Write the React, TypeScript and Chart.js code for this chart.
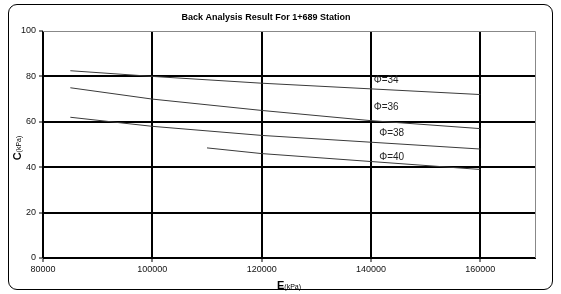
import React, { useEffect, useRef } from "react";
import { Chart, registerables } from "chart.js";

Chart.register(...registerables);

const titleText = "Back Analysis Result For 1+689 Station";
const eValues = [85000, 100000, 120000, 140000, 160000];
const eValues40 = [110000, 120000, 140000, 160000];
const phi34 = [82.5, 80, 77, 74.5, 72];
const phi36 = [75, 70, 65, 60.5, 57];
const phi38 = [62, 58, 54, 51, 48];
const phi40 = [48.5, 46, 42.5, 39];
const seriesNames = ["Φ=34", "Φ=36", "Φ=38", "Φ=40"];
const labelE = [140500, 140500, 141500, 141500];
const labelC = [78.5, 66.5, 55, 44.5];
const xTicks = [80000, 100000, 120000, 140000, 160000];
const yTicks = [0, 20, 40, 60, 80, 100];

const FONT = "Arial, 'Liberation Sans', sans-serif";

const decorPlugin = {
  id: "decor",
  afterDraw(chart: any) {
    const { ctx, chartArea, scales } = chart;
    const x = scales.x;
    const y = scales.y;
    ctx.save();
    // top/right border
    ctx.strokeStyle = "#888";
    ctx.lineWidth = 1;
    ctx.beginPath();
    ctx.moveTo(chartArea.left, chartArea.top + 0.5);
    ctx.lineTo(chartArea.right + 0.5, chartArea.top + 0.5);
    ctx.lineTo(chartArea.right + 0.5, chartArea.bottom);
    ctx.stroke();
    // series labels
    ctx.fillStyle = "#222";
    ctx.font = `10px ${FONT}`;
    ctx.textAlign = "left";
    ctx.textBaseline = "middle";
    seriesNames.forEach((n, i) => {
      ctx.fillText(n, x.getPixelForValue(labelE[i]), y.getPixelForValue(labelC[i]));
    });
    // title
    ctx.fillStyle = "#000";
    ctx.font = `bold 9px ${FONT}`;
    ctx.textAlign = "center";
    ctx.fillText(titleText, 266, 18);
    // x axis title
    ctx.textAlign = "left";
    ctx.textBaseline = "alphabetic";
    ctx.font = `bold 11px ${FONT}`;
    const ew = ctx.measureText("E").width;
    ctx.font = `7px ${FONT}`;
    const kw = ctx.measureText("(kPa)").width;
    const sx = 289 - (ew + kw) / 2;
    ctx.font = `bold 11px ${FONT}`;
    ctx.fillText("E", sx, 289);
    ctx.font = `7px ${FONT}`;
    ctx.fillText("(kPa)", sx + ew, 289);
    // y axis title
    ctx.translate(21, 148);
    ctx.rotate(-Math.PI / 2);
    ctx.font = `bold 11px ${FONT}`;
    const cw = ctx.measureText("C").width;
    const sy = -(cw + kw) / 2;
    ctx.fillText("C", sy, 0);
    ctx.font = `7px ${FONT}`;
    ctx.fillText("(kPa)", sy + cw, 0);
    ctx.restore();
  },
};

export default function App() {
  const ref = useRef<HTMLCanvasElement>(null);
  useEffect(() => {
    if (!ref.current) return;
    const mk = (xs: number[], ys: number[]) => xs.map((v, i) => ({ x: v, y: ys[i] }));
    const lineStyle = {
      borderColor: "#3a3a3a",
      borderWidth: 1,
      pointRadius: 0,
      fill: false,
      showLine: true,
      tension: 0,
    };
    const chart = new Chart(ref.current, {
      type: "scatter",
      data: {
        datasets: [
          { label: seriesNames[0], data: mk(eValues, phi34), ...lineStyle },
          { label: seriesNames[1], data: mk(eValues, phi36), ...lineStyle },
          { label: seriesNames[2], data: mk(eValues, phi38), ...lineStyle },
          { label: seriesNames[3], data: mk(eValues40, phi40), ...lineStyle },
        ],
      },
      options: {
        animation: false,
        responsive: false,
        layout: { padding: { left: 0, top: 31, right: 26, bottom: 0 } },
        plugins: { legend: { display: false }, title: { display: false }, tooltip: { enabled: false } },
        scales: {
          x: {
            type: "linear",
            min: 80000,
            max: 170000,
            afterBuildTicks: (s: any) => {
              s.ticks = xTicks.map((v) => ({ value: v }));
            },
            afterFit: (s: any) => {
              s.height = 36;
            },
            ticks: {
              color: "#111",
              font: { family: FONT, size: 9 },
              maxRotation: 0,
              padding: 2,
              callback: (v: any) => String(v),
            },
            grid: {
              color: "#000",
              lineWidth: 2,
              tickLength: 4,
              tickColor: "#000",
              tickWidth: 1,
            },
            border: { color: "#000", width: 1 },
          },
          y: {
            type: "linear",
            min: 0,
            max: 100,
            afterBuildTicks: (s: any) => {
              s.ticks = yTicks.map((v) => ({ value: v }));
            },
            afterFit: (s: any) => {
              s.width = 43;
            },
            ticks: {
              color: "#111",
              font: { family: FONT, size: 9 },
              padding: 3,
            },
            grid: {
              color: (c: any) => (c.tick && c.tick.value === 100 ? "rgba(0,0,0,0)" : "#000"),
              lineWidth: 2,
              tickLength: 4,
              tickColor: "#000",
              tickWidth: 1,
            },
            border: { color: "#000", width: 1 },
          },
        },
      },
      plugins: [decorPlugin],
    } as any);
    return () => chart.destroy();
  }, []);
  return (
    <div style={{ position: "fixed", left: 0, top: 0, width: 561, height: 294, background: "#fff" }}>
      <div
        style={{
          position: "absolute",
          left: 8,
          top: 4,
          width: 543,
          height: 284,
          border: "1px solid #000",
          borderRadius: 9,
        }}
      />
      <canvas ref={ref} width={561} height={294} style={{ position: "absolute", left: 0, top: 0 }} />
    </div>
  );
}
